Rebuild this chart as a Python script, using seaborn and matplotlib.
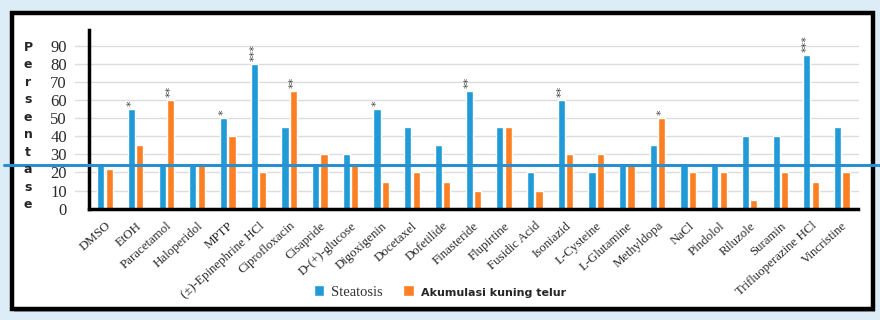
import pandas as pd
import seaborn as sns
import matplotlib.pyplot as plt
from matplotlib.patches import Rectangle

# ---------------------------------------------------------
# data
# ---------------------------------------------------------
senyawa = ["DMSO", "EtOH", "Paracetamol", "Haloperidol", "MPTP",
           "(±)-Epinephrine HCl", "Ciprofloxacin", "Cisapride", "D-(+)-glucose",
           "Digoxigenin", "Docetaxel", "Dofetilide", "Finasteride", "Flupirtine",
           "Fusidic Acid", "Isoniazid", "L-Cysteine", "L-Glutamine", "Methyldopa",
           "NaCl", "Pindolol", "Riluzole", "Suramin", "Trifluoperazine HCl",
           "Vincristine"]
steatosis = [24, 55, 25, 25, 50, 80, 45, 25, 30, 55, 45, 35, 65, 45, 20,
             60, 20, 25, 35, 25, 25, 40, 40, 85, 45]
kuning_telur = [22, 35, 60, 25, 40, 20, 65, 30, 25, 15, 20, 15, 10, 45, 10,
                30, 30, 25, 50, 20, 20, 5, 20, 15, 20]
sig_steatosis = ["", "*", "", "", "*", "***", "", "", "", "*", "", "", "**", "",
                 "", "**", "", "", "", "", "", "", "", "***", ""]
sig_kuning = ["", "", "**", "", "", "", "**", "", "", "", "", "", "", "", "",
              "", "", "", "*", "", "", "", "", "", ""]
garis_kontrol = 24
seri = ["Steatosis", "Akumulasi kuning telur"]
warna = {"Steatosis": "#219bd8", "Akumulasi kuning telur": "#fd7f23"}

df = pd.DataFrame({
    "senyawa": senyawa * 2,
    "nilai": steatosis + kuning_telur,
    "seri": [seri[0]] * len(senyawa) + [seri[1]] * len(senyawa),
})

# ---------------------------------------------------------
# figure
# ---------------------------------------------------------
sns.set_theme(style="white")
plt.rcParams["font.family"] = ["Liberation Serif", "DejaVu Serif"]

fig = plt.figure(figsize=(8.8, 3.2), dpi=100, facecolor="#ddedf8")
# bayangan + bingkai
fig.patches.append(Rectangle((14 / 880, 1 - 312 / 320), 861 / 880, 296 / 320,
                             transform=fig.transFigure, facecolor="#9aa7b0",
                             edgecolor="none", zorder=-2))
fig.patches.append(Rectangle((12 / 880, 1 - 309 / 320), 861 / 880, 296 / 320,
                             transform=fig.transFigure, facecolor="white",
                             edgecolor="black", lw=3.2, zorder=-1))

ax = fig.add_axes([89 / 880, 1 - 208.7 / 320, 769 / 880, 178.7 / 320])
ax.set_facecolor("none")
sns.barplot(data=df, x="senyawa", y="nilai", hue="seri", hue_order=seri,
            palette=warna, width=0.55, gap=0.15, ax=ax, saturation=1)

ax.bar_label(ax.containers[0], labels=sig_steatosis, rotation=90, padding=2,
             fontsize=8, color="#444444", family="DejaVu Sans")
ax.bar_label(ax.containers[1], labels=sig_kuning, rotation=90, padding=2,
             fontsize=8, color="#444444", family="DejaVu Sans")

ax.set_xlim(-0.52, 24.53)
ax.set_ylim(0, 98.7)
ax.set_yticks(range(0, 100, 10))
# garis grid sedikit menjorok ke kiri seperti aslinya
for t in ax.get_yticks()[1:]:
    ax.axhline(t, xmin=-0.018, xmax=1, color="#dcdcdc", lw=1, zorder=0,
               clip_on=False)
ax.set_xlabel("")
ax.set_ylabel("")
for s in ["top", "right"]:
    ax.spines[s].set_visible(False)
for s in ["left", "bottom"]:
    ax.spines[s].set_color("black")
    ax.spines[s].set_linewidth(2.5)
ax.tick_params(axis="y", length=0, pad=16, labelsize=12, colors="#2a2a2a")
ax.tick_params(axis="x", length=0, pad=8, labelsize=9.3, colors="#2a2a2a")
plt.setp(ax.get_xticklabels(), rotation=42, ha="right", rotation_mode="anchor")

# garis kontrol
ax.axhline(garis_kontrol, xmin=-0.11, xmax=1.03, color="#2a8fd0", lw=2.2,
           clip_on=False, zorder=5)

# label sumbu y (huruf per huruf)
fig.text(28 / 880, 1 - 126 / 320, "\n".join("Persentase"), ha="center",
         va="center", fontsize=9, fontweight="bold", family="DejaVu Sans",
         linespacing=1.45)

# legend
handles, labels = ax.get_legend_handles_labels()
ax.get_legend().remove()
leg = fig.legend(handles, labels, loc="center",
                 bbox_to_anchor=(440 / 880, 1 - 292 / 320), ncol=2,
                 frameon=False, handlelength=0.7, handleheight=0.7,
                 handletextpad=0.5, columnspacing=1.4, fontsize=10.5)
leg.get_texts()[0].set_color("#333333")
leg.get_texts()[1].set_family("DejaVu Sans")
leg.get_texts()[1].set_fontweight("bold")
leg.get_texts()[1].set_fontsize(8)

plt.savefig("out.png", dpi=100, facecolor=fig.get_facecolor())
